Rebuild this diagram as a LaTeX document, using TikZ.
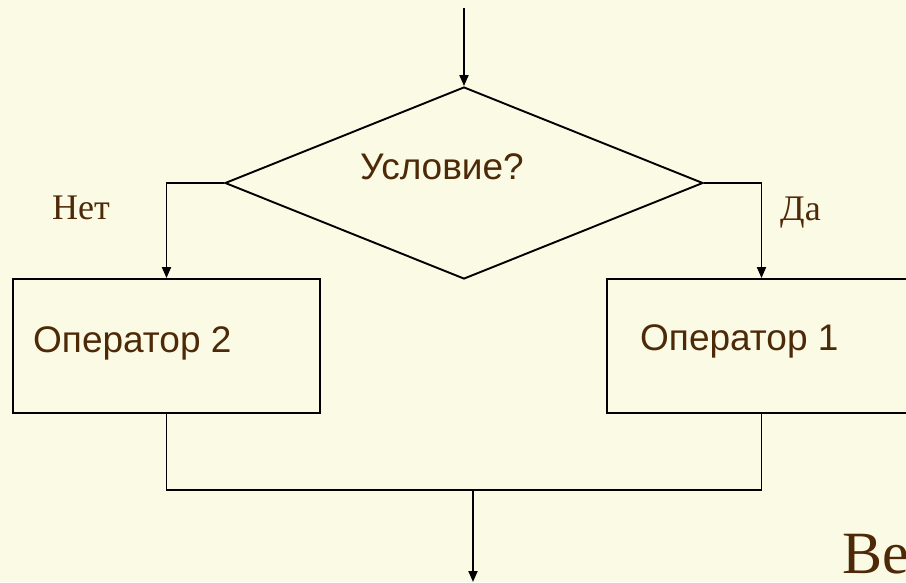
\documentclass[tikz,border=0pt]{standalone}
\usepackage{fontspec}
\setmainfont{Liberation Serif}
\newfontfamily\sansfont{Liberation Sans}
\usetikzlibrary{shapes.geometric,arrows.meta}
\definecolor{bgcol}{RGB}{250,250,229}
\definecolor{txtcol}{RGB}{77,41,8}
\tikzset{
  conn/.style={line width=1.9pt,draw=black},
  arr/.style={conn,-{Triangle[length=11pt,width=9pt]}},
  boxstyle/.style={draw=black,line width=1.9pt,rectangle,inner sep=0pt},
  sanstext/.style={text=txtcol,font=\sansfont\fontsize{37}{40}\selectfont,inner sep=0pt},
  seriftext/.style={text=txtcol,font=\fontsize{36}{40}\selectfont,inner sep=0pt}
}
\begin{document}
\begin{tikzpicture}[x=1pt,y=-1pt]
\useasboundingbox (0,0) rectangle (906,582);
\clip (0,0) rectangle (906,582);
\fill[bgcol] (0,0) rectangle (906,582);
% decision
\node[draw=black,line width=1.9pt,shape=diamond,inner sep=0pt,minimum width=478pt,minimum height=192pt] (cond) at (464,183) {};
\node[sanstext,anchor=base] (condtext) at (442,179) {Условие?};
% boxes
\node[boxstyle,minimum width=307pt,minimum height=134pt] (box2) at (166.5,346) {};
\node[boxstyle,minimum width=309pt,minimum height=134pt] (box1) at (761.5,346) {};
\node[sanstext,anchor=base west] (t2) at (33,352) {Оператор 2};
\node[sanstext,anchor=base west] (t1) at (640,350) {Оператор 1};
% labels
\node[seriftext,anchor=base west] (no) at (52,219) {Нет};
\node[seriftext,anchor=base west] (yes) at (780,220) {Да};
\node[text=txtcol,font=\fontsize{60}{66}\selectfont,inner sep=0pt,anchor=base west] (be) at (842,573) {Ве};
% connectors
\coordinate (top) at (464,8);
\draw[arr] (top) -- (cond.north);
\draw[arr] (cond.west) -| (box2.north);
\draw[arr] (cond.east) -| (box1.north);
\coordinate (j2) at (166.5,490);
\coordinate (j1) at (761.5,490);
\draw[conn] (box2.south) -- (j2) -- (j1) -- (box1.south);
\coordinate (jm) at (473,490);
\coordinate (bot) at (473,582);
\draw[arr] (jm) -- (bot);
\end{tikzpicture}
\end{document}
